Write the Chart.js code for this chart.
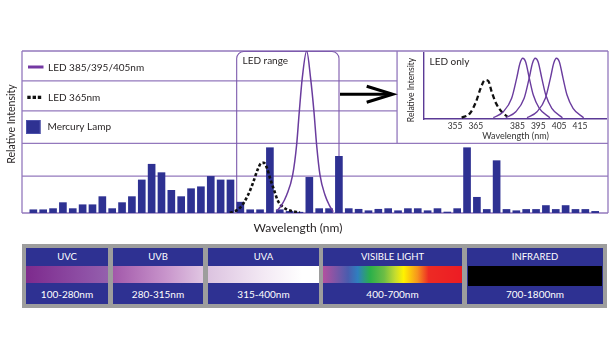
<!DOCTYPE html>
<html><head><meta charset="utf-8">
<script src="https://cdn.jsdelivr.net/npm/chart.js@4"></script>
<style>
html,body{margin:0;padding:0;background:#fff;}
#wrap{position:relative;width:615px;height:350px;overflow:hidden;font-family:Lato,"Open Sans",sans-serif;}
#main{position:absolute;left:0;top:0;}
#inset{position:absolute;left:398px;top:52px;background:#fff;}
.panel{position:absolute;left:22px;top:244px;width:585px;height:64px;background:#9d9d9d;}
.cell{position:absolute;top:4px;height:56px;background:#2e3192;color:#fff;}
.cell .h{position:absolute;left:0;right:0;top:3px;text-align:center;font-size:9.5px;line-height:12px;}
.cell .s{position:absolute;left:0;top:18px;height:17px;width:100%;}
.cell .f{position:absolute;left:0;right:0;top:40px;text-align:center;font-size:10px;line-height:13px;}
</style></head>
<body>
<div id="wrap">
  <canvas id="main" width="615" height="240"></canvas>
  <canvas id="inset" width="209" height="90"></canvas>
  <div class="panel">
    <div class="cell" style="left:4px;width:82px"><div class="h">UVC</div><div class="s" style="background:linear-gradient(to right,#7d2a8d,#8e4fa5 70%,#9460ad)"></div><div class="f">100-280nm</div></div>
    <div class="cell" style="left:91px;width:90px"><div class="h">UVB</div><div class="s" style="background:linear-gradient(to right,#a258aa,#c996cc 60%,#e0c6e2)"></div><div class="f">280-315nm</div></div>
    <div class="cell" style="left:186px;width:111px"><div class="h">UVA</div><div class="s" style="background:linear-gradient(to right,#dcc3e0,#f3e9f4 50%,#ffffff 85%)"></div><div class="f">315-400nm</div></div>
    <div class="cell" style="left:301px;width:139px"><div class="h">VISIBLE LIGHT</div><div class="s" style="background:linear-gradient(to right,#b3509f 0%,#4a5cae 18%,#2f7fbf 25%,#2bb04a 34%,#6dbd45 44%,#c5dc2f 52%,#fff200 58%,#f7941d 68%,#ed2a24 76%,#ed1c24 100%)"></div><div class="f">400-700nm</div></div>
    <div class="cell" style="left:445px;width:136px"><div class="h">INFRARED</div><div class="s" style="background:#000;height:20px;top:18px;left:1px;width:134px"></div><div class="f">700-1800nm</div></div>
  </div>
</div>
<script>
// ---------- data ----------
// Mercury lamp emission bars (relative intensity, %), in order of wavelength
const mercuryBars = [2.0,2.0,2.7,6.4,2.7,5.1,5.1,10.1,2.7,6.4,
  10.1,20.4,30.1,24.9,14.0,10.1,15.0,16.2,22.6,20.4,
  20.4,6.7,2.0,2.0,40.3,2.0,1.0,0.5,22.0,2.7,
  2.7,35.0,2.7,2.3,1.4,2.3,2.7,1.4,2.7,2.7,
  1.4,2.7,0.6,2.7,40.3,9.7,2.2,32.3,2.2,1.4,
  2.2,2.2,4.6,2.2,4.6,2.2,2.2,1.0];
// LED 385/395/405 curve on main chart (x in bar-index units)
const ledMainX = [24.69,25.19,25.70,26.31,26.71,26.98,27.28,27.73,28.13,28.47,28.74,29.08,29.59,30.02,30.43];
const ledMainY = [1.2,4.9,11.1,23.5,42.0,62.5,83.1,100,83.1,62.5,42.0,23.5,11.1,4.9,0.8];
// LED 365 curve on main chart
const led365MainX = [19.95,20.96,21.78,22.28,22.74,23.09,23.40,23.70,24.01,24.42,24.82,25.33,26.03,27.05];
const led365MainY = [0,3.1,11.1,18.5,26.5,30.6,31.0,27.8,21.6,14.2,7.4,3.7,1.5,0.3];
// Inset "LED only" (x in nm)
const insetTicks = [355,365,385,395,405,415];
const inset365X = [358.2,362.2,365.1,367.3,369.4,371.0,372.6,374.7,377.4,380.1];
const inset365Y = [2,8.5,25.8,45.8,58.2,56.7,40.7,23.4,10.9,3.4];
const inset385X = [373.4,378.2,382.2,384.6,386.2,387.5,388.9,390.7,392.6,395.5,400.6];
const inset395X = [379.4,384.2,388.2,390.6,392.2,393.5,394.9,396.7,398.6,401.5,406.6];
const inset405X = [389.6,394.4,398.4,400.8,402.4,403.7,405.1,406.9,408.8,411.7,416.8];
const insetLedY = [2,10.9,30.9,60.7,83.1,90.6,85.5,60.7,35.8,16,2];
// grid lines of the main frame (relative intensity values)
const fullLines = [0,22.8,43.0,100];
const legendLines = [63.0,81.5];

const FRAME = '#9378bd', PURPLE = '#6a3c9e', BLUE = '#2e3192', TXT = '#231f20';
const FONT = 'Lato, "Open Sans", sans-serif';
const pts = (xs, ys) => xs.map((x,i)=>({x, y: ys[i]}));

function seg(ctx,x1,y1,x2,y2){ctx.beginPath();ctx.moveTo(x1,y1);ctx.lineTo(x2,y2);ctx.stroke();}

const decor = {
  id:'decor',
  beforeDatasetsDraw(chart){
    const {ctx, chartArea:a, scales:{x,y}} = chart;
    ctx.save();
    ctx.strokeStyle = FRAME; ctx.lineWidth = 1.3;
    const xd = x.getPixelForValue(36.9);
    fullLines.forEach(v=>{const py=y.getPixelForValue(v); seg(ctx,a.left,py,a.right,py);});
    legendLines.forEach(v=>{const py=y.getPixelForValue(v); seg(ctx,a.left,py,xd,py);});
    seg(ctx,a.left,a.top,a.left,a.bottom);
    seg(ctx,a.right,a.top,a.right,a.bottom);
    seg(ctx,xd,a.top,xd,y.getPixelForValue(43.0));
    // LED range box
    const l = x.getPixelForValue(20.63), r = x.getPixelForValue(31.01), t = a.top+0.5, b = a.bottom, rad = 7;
    ctx.strokeStyle = '#7d5aad'; ctx.lineWidth = 1.1;
    ctx.beginPath(); ctx.moveTo(l,b); ctx.lineTo(l,t+rad); ctx.arcTo(l,t,l+rad,t,rad);
    ctx.lineTo(r-rad,t); ctx.arcTo(r,t,r,t+rad,rad); ctx.lineTo(r,b); ctx.stroke();
    ctx.restore();
  },
  afterDatasetsDraw(chart){
    const {ctx, scales:{x,y}} = chart;
    ctx.save();
    // legend
    ctx.strokeStyle = '#7438a3'; ctx.lineWidth = 3;
    seg(ctx,28,67,43.5,67);
    ctx.fillStyle = '#111';
    [27.3,32.6,37.8].forEach(px=>ctx.fillRect(px,95.7,3.4,3.3));
    ctx.fillStyle = BLUE; ctx.fillRect(26,120,14.5,14);
    ctx.strokeStyle = '#4c50aa'; ctx.lineWidth = 1; ctx.strokeRect(26.5,120.5,13.5,13);
    ctx.fillStyle = TXT; ctx.font = '10px '+FONT; ctx.textBaseline = 'middle'; ctx.textAlign='left';
    ctx.fillText('LED 385/395/405nm',48,67.5);
    ctx.fillText('LED 365nm',48,97.5);
    ctx.fillText('Mercury Lamp',47.5,127);
    ctx.fillText('LED range',242.5,61);
    // arrow
    const ay = y.getPixelForValue(73.3), x0 = x.getPixelForValue(31.01)+1, x1 = x.getPixelForValue(36.46), xa = x.getPixelForValue(33.82);
    ctx.strokeStyle = '#000'; ctx.lineWidth = 3; ctx.lineJoin='miter';
    seg(ctx,x0,ay,x1-2,ay);
    ctx.beginPath(); ctx.moveTo(xa,ay-8); ctx.lineTo(x1,ay); ctx.lineTo(xa,ay+8); ctx.stroke();
    // axis titles
    ctx.fillStyle = TXT; ctx.textAlign='center'; ctx.font = '12px '+FONT;
    ctx.fillText('Wavelength (nm)',298,228);
    ctx.font = '10.5px '+FONT;
    ctx.translate(12,124); ctx.rotate(-Math.PI/2); ctx.fillText('Relative Intensity',0,0);
    ctx.restore();
  }
};

new Chart(document.getElementById('main'), {
  type:'bar',
  data:{datasets:[
    {type:'line', data:pts(ledMainX,ledMainY), borderColor:PURPLE, borderWidth:1.5, pointRadius:0, cubicInterpolationMode:'monotone', order:0},
    {type:'line', data:pts(led365MainX,led365MainY), borderColor:'#111', borderWidth:2.6, borderDash:[3,2.2], pointRadius:0, cubicInterpolationMode:'monotone', order:1},
    {type:'bar', data:mercuryBars.map((v,i)=>({x:i,y:v})), backgroundColor:BLUE, barThickness:7, order:2}
  ]},
  options:{
    responsive:false, animation:false, devicePixelRatio:1,
    layout:{padding:{left:22,right:7,top:51,bottom:27}},
    plugins:{legend:{display:false}, tooltip:{enabled:false}},
    scales:{
      x:{type:'linear', min:-1.15, max:58.3, offset:false, display:false},
      y:{min:0, max:100, display:false}
    }
  },
  plugins:[decor]
});

const insetDecor = {
  id:'insetDecor',
  afterDraw(chart){
    const ctx = chart.ctx; ctx.save();
    ctx.fillStyle = TXT; ctx.font = '10px '+FONT; ctx.textBaseline='middle'; ctx.textAlign='left';
    ctx.fillText('LED only',31.5,9.5);
    ctx.font = '8.5px '+FONT; ctx.textAlign='center';
    ctx.translate(13.5,38); ctx.rotate(-Math.PI/2); ctx.fillText('Relative Intensity',0,0);
    ctx.restore();
  }
};
const ledLine = (xs) => ({data:pts(xs,insetLedY), borderColor:PURPLE, borderWidth:1.4, pointRadius:0, cubicInterpolationMode:'monotone'});
new Chart(document.getElementById('inset'), {
  type:'line',
  data:{datasets:[
    ledLine(inset385X), ledLine(inset395X), ledLine(inset405X),
    {data:pts(inset365X,inset365Y), borderColor:'#111', borderWidth:2.3, borderDash:[5,3], pointRadius:0, cubicInterpolationMode:'monotone'}
  ]},
  options:{
    responsive:false, animation:false, devicePixelRatio:1,
    layout:{padding:{left:26,right:0,top:0,bottom:0}},
    plugins:{legend:{display:false}, tooltip:{enabled:false}},
    scales:{
      x:{type:'linear', min:340.1, max:428, offset:false,
        afterBuildTicks:s=>{s.ticks = insetTicks.map(v=>({value:v}));},
        afterFit:s=>{s.height = 23;},
        grid:{display:false, drawTicks:false}, border:{color:'#5b3a96', width:1.4},
        ticks:{font:{family:FONT,size:8.5}, color:'#333', padding:2, maxRotation:0, autoSkip:false},
        title:{display:true, text:'Wavelength (nm)', font:{family:FONT,size:9}, color:'#333', padding:{top:0,bottom:1}}
      },
      y:{min:0, max:100, afterFit:s=>{s.width = 0;}, grid:{display:false, drawTicks:false}, border:{color:'#5b3a96', width:1.4}, ticks:{display:false}}
    }
  },
  plugins:[insetDecor]
});
</script>
</body></html>
